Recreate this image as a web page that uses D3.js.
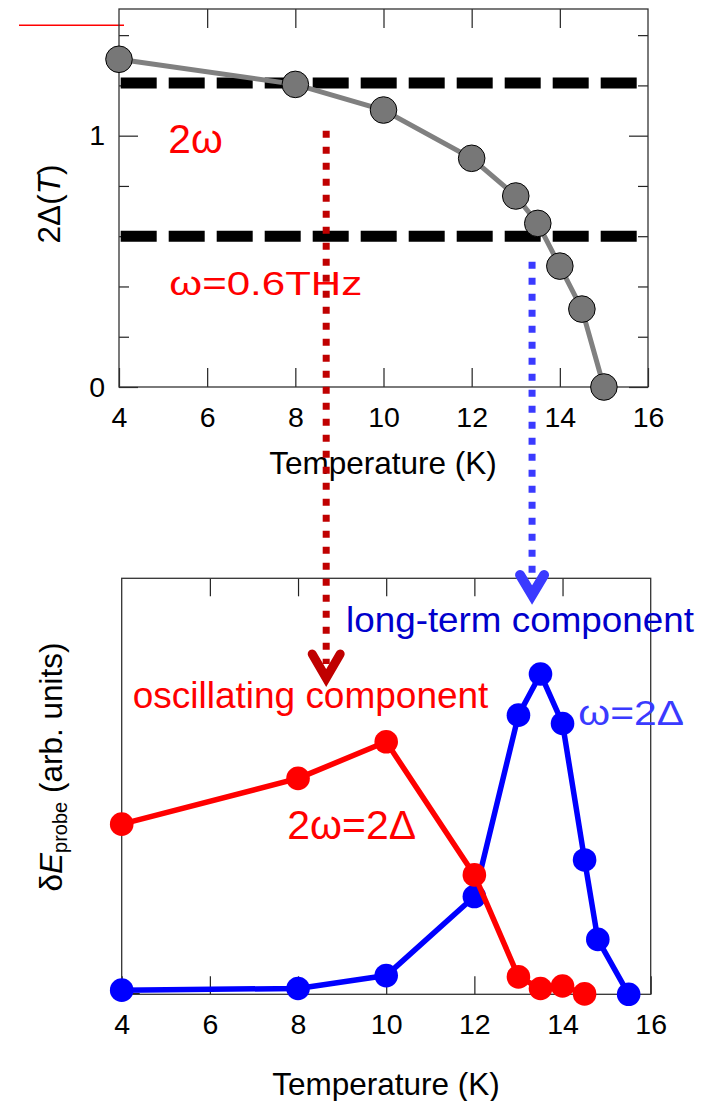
<!DOCTYPE html>
<html>
<head>
<meta charset="utf-8">
<script src="https://cdn.jsdelivr.net/npm/d3@7"></script>
<style>
body { margin: 0; background: #fff; }
svg { display: block; font-family: "Liberation Sans", Arial, sans-serif; }
</style>
</head>
<body>
<script>
// top panel: 2Δ(T)
var gapT = [4, 8, 10, 12, 13, 13.5, 14, 14.5, 15];
var gapV = [1.304, 1.204, 1.102, 0.910, 0.760, 0.651, 0.481, 0.310, 0];
var refLevels = [1.21, 0.6];

// bottom panel: δE_probe
var oscT = [4, 8, 10, 12, 13, 13.5, 14, 14.5];
var oscV = [0.409, 0.519, 0.607, 0.287, 0.042, 0.014, 0.020, 0.001];
var longT = [4, 8, 10, 12, 13, 13.5, 14, 14.5, 14.8, 15.5];
var longV = [0.010, 0.014, 0.045, 0.235, 0.671, 0.770, 0.651, 0.323, 0.132, 0];

var xTicks = [4, 6, 8, 10, 12, 14, 16];
var innerTicks = [6, 8, 10, 12, 14];
var gapMajor = [0, 1];
var gapMinor = [0.2, 0.4, 0.6, 0.8, 1.2, 1.4];

var width = 701,
    height = 1101;

var svg = d3.select("body").append("svg")
    .attr("width", width)
    .attr("height", height);

// panel boxes
var boxA = {x0: 119, x1: 648, y0: 9, y1: 387},
    boxB = {x0: 121.7, x1: 650.7, y0: 578.3, y1: 994.3};

var xTop = d3.scaleLinear().domain([4, 16]).range([boxA.x0, boxA.x1]);
var yTop = d3.scaleLinear().domain([0, 1.504]).range([boxA.y1, boxA.y0]);
var xBot = d3.scaleLinear().domain([4, 16]).range([boxB.x0, boxB.x1]);
var yBot = d3.scaleLinear().domain([0, 1]).range([boxB.y1, boxB.y0]);

function styleAxis(g, size) {
    g.attr("font-size", size).attr("font-family", null).attr("color", "#222");
    g.select(".domain").remove();
    g.selectAll(".tick line").attr("stroke-width", 1.2);
    g.selectAll("text").attr("fill", "#000");
}

function drawFrame(b) {
    svg.append("rect")
        .attr("x", b.x0).attr("y", b.y0)
        .attr("width", b.x1 - b.x0).attr("height", b.y1 - b.y0)
        .attr("fill", "none")
        .attr("stroke", "#333")
        .attr("stroke-width", 1.3);
}

// stray red line top-left
svg.append("line")
    .attr("x1", 19).attr("x2", 124)
    .attr("y1", 25.3).attr("y2", 25.3)
    .attr("stroke", "#ff0000").attr("stroke-width", 1.5);

// ---- top panel axes
svg.append("g").attr("transform", "translate(0," + boxA.y1 + ")")
    .call(d3.axisBottom(xTop).tickValues(xTicks).tickSizeInner(-19).tickSizeOuter(0).tickPadding(20))
    .call(styleAxis, 28.5);
svg.append("g").attr("transform", "translate(0," + boxA.y0 + ")")
    .call(d3.axisTop(xTop).tickValues(innerTicks).tickSizeInner(-19).tickSizeOuter(0).tickFormat(""))
    .call(styleAxis, 10);
svg.append("g").attr("transform", "translate(" + boxA.x0 + ",0)")
    .call(d3.axisLeft(yTop).tickValues(gapMajor).tickSizeInner(-19).tickSizeOuter(0).tickPadding(14).tickFormat(d3.format("d")))
    .call(styleAxis, 28.5);
svg.append("g").attr("transform", "translate(" + boxA.x0 + ",0)")
    .call(d3.axisLeft(yTop).tickValues(gapMinor).tickSizeInner(-10).tickSizeOuter(0).tickFormat(""))
    .call(styleAxis, 10);
svg.append("g").attr("transform", "translate(" + boxA.x1 + ",0)")
    .call(d3.axisRight(yTop).tickValues(gapMajor).tickSizeInner(-19).tickSizeOuter(0).tickFormat(""))
    .call(styleAxis, 10);
svg.append("g").attr("transform", "translate(" + boxA.x1 + ",0)")
    .call(d3.axisRight(yTop).tickValues(gapMinor).tickSizeInner(-10).tickSizeOuter(0).tickFormat(""))
    .call(styleAxis, 10);
drawFrame(boxA);

// reference levels (thick dashes)
svg.selectAll(".ref")
    .data(refLevels)
    .enter().append("line")
    .attr("class", "ref")
    .attr("x1", boxA.x0 + 1.7).attr("x2", boxA.x0 + 517.7)
    .attr("y1", function(d) { return yTop(d); })
    .attr("y2", function(d) { return yTop(d); })
    .attr("stroke", "#000")
    .attr("stroke-width", 11)
    .attr("stroke-dasharray", "36,12");

// gap curve
var gapData = d3.zip(gapT, gapV);
svg.append("path")
    .datum(gapData)
    .attr("d", d3.line().x(function(d) { return xTop(d[0]); }).y(function(d) { return yTop(d[1]); }))
    .attr("fill", "none")
    .attr("stroke", "#808080")
    .attr("stroke-width", 5);
svg.selectAll(".gapdot")
    .data(gapData)
    .enter().append("circle")
    .attr("class", "gapdot")
    .attr("cx", function(d) { return xTop(d[0]); })
    .attr("cy", function(d) { return yTop(d[1]); })
    .attr("r", 13.3)
    .attr("fill", "#777")
    .attr("stroke", "#000")
    .attr("stroke-width", 1);

// top titles
svg.append("text")
    .attr("x", 383).attr("y", 474)
    .attr("text-anchor", "middle")
    .attr("font-size", 31.5)
    .text("Temperature (K)");
var yl1 = svg.append("text")
    .attr("transform", "translate(60,204) rotate(-90)")
    .attr("text-anchor", "middle")
    .attr("font-size", 31.5);
yl1.append("tspan").text("2Δ(");
yl1.append("tspan").attr("font-style", "italic").text("T");
yl1.append("tspan").text(")");

// ---- bottom panel axes
svg.append("g").attr("transform", "translate(0," + boxB.y1 + ")")
    .call(d3.axisBottom(xBot).tickValues(xTicks).tickSizeInner(-18).tickSizeOuter(0).tickPadding(19))
    .call(styleAxis, 28.5);
svg.append("g").attr("transform", "translate(0," + boxB.y0 + ")")
    .call(d3.axisTop(xBot).tickValues(innerTicks).tickSizeInner(-18).tickSizeOuter(0).tickFormat(""))
    .call(styleAxis, 10);
svg.append("g").attr("transform", "translate(" + boxB.x0 + ",0)")
    .call(d3.axisLeft(yBot).tickValues([0.003]).tickSizeInner(-18).tickSizeOuter(0).tickFormat(""))
    .call(styleAxis, 10);
drawFrame(boxB);

function series(t, v, color) {
    var data = d3.zip(t, v);
    svg.append("path")
        .datum(data)
        .attr("d", d3.line().x(function(d) { return xBot(d[0]); }).y(function(d) { return yBot(d[1]); }))
        .attr("fill", "none")
        .attr("stroke", color)
        .attr("stroke-width", 5.5)
        .attr("stroke-linejoin", "round");
    svg.append("g").selectAll("circle")
        .data(data)
        .enter().append("circle")
        .attr("cx", function(d) { return xBot(d[0]); })
        .attr("cy", function(d) { return yBot(d[1]); })
        .attr("r", 11.8)
        .attr("fill", color);
}
series(longT, longV, "#0000ff");
series(oscT, oscV, "#ff0000");

svg.append("text")
    .attr("x", 386).attr("y", 1095)
    .attr("text-anchor", "middle")
    .attr("font-size", 31.5)
    .text("Temperature (K)");
var yl2 = svg.append("text")
    .attr("transform", "translate(62,767) rotate(-90)")
    .attr("text-anchor", "middle")
    .attr("font-size", 31.5);
yl2.append("tspan").text("δ");
yl2.append("tspan").attr("font-style", "italic").text("E");
yl2.append("tspan").attr("font-size", 20).attr("dy", 5).text("probe");
yl2.append("tspan").attr("dy", -5).text(" (arb. units)");

// annotations
var notes = [
    {t: "2ω", x: 168.3, y: 153.3, size: 40, w: 54.4, c: "#ff0000"},
    {t: "ω=0.6THz", x: 169.3, y: 295, size: 34, w: 193, c: "#ff0000"},
    {t: "long-term component", x: 346, y: 631.7, size: 35, w: 348, c: "#0000cc"},
    {t: "oscillating component", x: 132.7, y: 708.3, size: 36, w: 355.7, c: "#ff0000"},
    {t: "2ω=2Δ", x: 287.3, y: 839.3, size: 41, w: 128.7, c: "#ff0000"},
    {t: "ω=2Δ", x: 578.3, y: 725, size: 35, w: 105.7, c: "#3a3aff"}
];
svg.selectAll(".note")
    .data(notes)
    .enter().append("text")
    .attr("class", "note")
    .attr("x", function(d) { return d.x; })
    .attr("y", function(d) { return d.y; })
    .attr("font-size", function(d) { return d.size; })
    .attr("textLength", function(d) { return d.w; })
    .attr("lengthAdjust", "spacingAndGlyphs")
    .attr("fill", function(d) { return d.c; })
    .text(function(d) { return d.t; });

// dotted arrows from top panel to bottom panel
var arrows = [
    {t: 8.7, y0: 130.7, y1: 664, tip: 678, half: 14, drop: 24, sw: 9, c: "#c00000"},
    {t: 13.37, y0: 261.7, y1: 580, tip: 595, half: 12, drop: 20, sw: 10, c: "#3a3aff"}
];
arrows.forEach(function(a) {
    var x = xTop(a.t);
    svg.append("line")
        .attr("x1", x).attr("x2", x)
        .attr("y1", a.y0).attr("y2", a.y1)
        .attr("stroke", a.c)
        .attr("stroke-width", 7)
        .attr("stroke-dasharray", "7,9");
    svg.append("path")
        .attr("d", "M" + (x - a.half) + "," + (a.tip - a.drop) + "L" + x + "," + a.tip + "L" + (x + a.half) + "," + (a.tip - a.drop))
        .attr("fill", "none")
        .attr("stroke", a.c)
        .attr("stroke-width", a.sw)
        .attr("stroke-linecap", "round")
        .attr("stroke-linejoin", "miter")
        .attr("stroke-miterlimit", 10);
});
</script>
</body>
</html>
